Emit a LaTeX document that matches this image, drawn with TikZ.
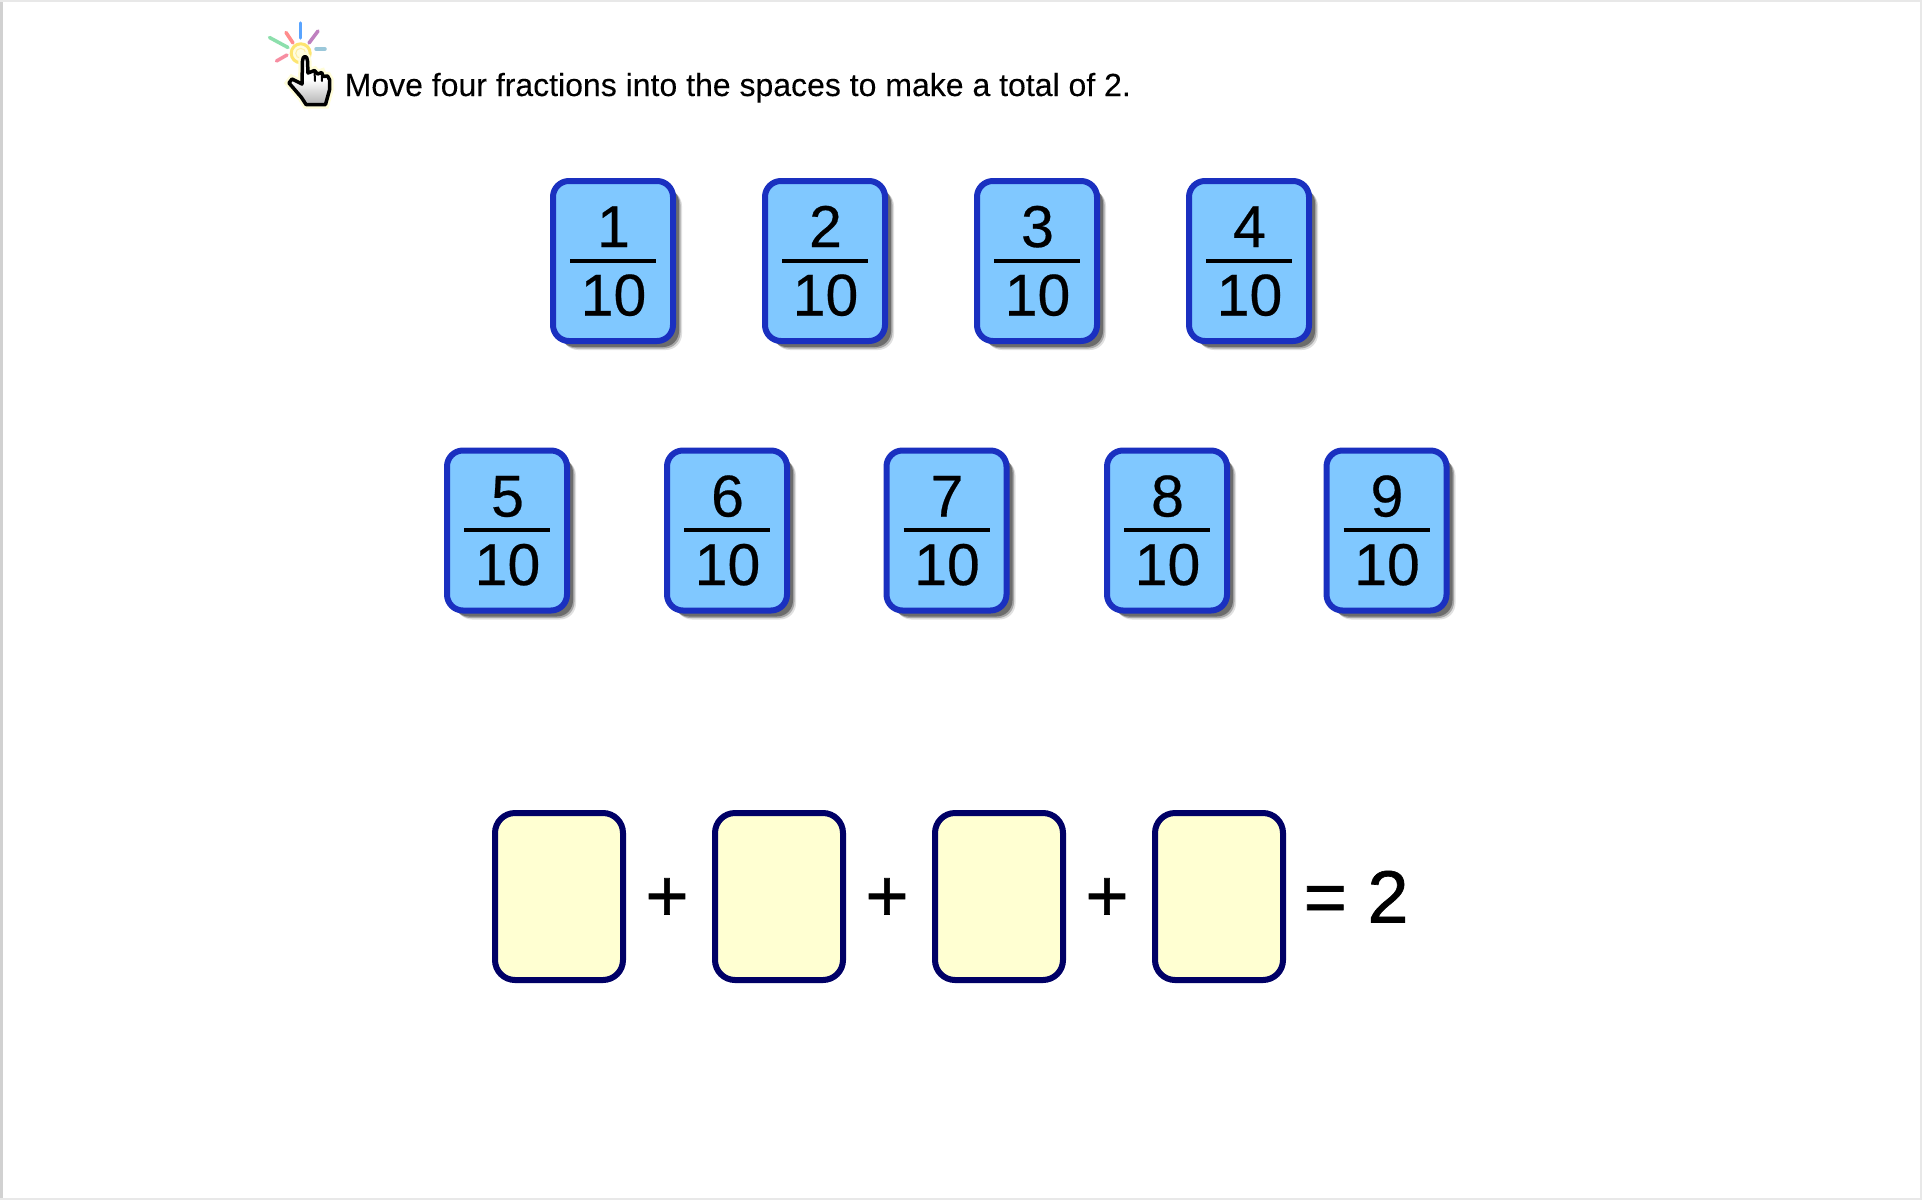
\documentclass[tikz,border=0pt]{standalone}
\usepackage{fontspec}
\setmainfont{Liberation Sans}
\newfontfamily\heavyfont[FakeBold=0.4]{Liberation Sans}
\newfontfamily\signfont[FakeBold=0.9]{Liberation Sans}
\newfontfamily\taskfont[FakeBold=0.12]{Liberation Sans}
\usetikzlibrary{shadows}

\definecolor{cardfill}{HTML}{80C8FF}
\definecolor{cardedge}{HTML}{1A30C0}
\definecolor{blankfill}{HTML}{FFFFD2}
\definecolor{blankedge}{HTML}{000066}

\tikzset{
    card/.style={draw=cardedge, fill=cardfill, line width=6pt, rounded corners=16pt,
        minimum width=120pt, minimum height=160pt, inner sep=0pt,
        drop shadow={shadow xshift=9pt, shadow yshift=-9pt, fill=black, opacity=0.12},
        drop shadow={shadow xshift=7.5pt, shadow yshift=-7.5pt, fill=black, opacity=0.25},
        drop shadow={shadow xshift=6pt, shadow yshift=-6pt, fill=black, opacity=0.35}},
    blank/.style={draw=blankedge, fill=blankfill, line width=6pt, rounded corners=20pt,
        minimum width=128pt, minimum height=167pt, inner sep=0pt},
    digit/.style={anchor=base, inner sep=0pt, font=\fontsize{59}{60}\heavyfont},
    sign/.style={anchor=base, inner sep=0pt, font=\fontsize{74}{76}\signfont},
    fractionbar/.style={line width=4pt},
    ray/.style={line width=3.5pt, line cap=round},
    crease/.style={line width=2pt, line cap=round}
}

\begin{document}
\begin{tikzpicture}[x=1pt, y=-1pt]

    \useasboundingbox (0, 0) rectangle (1922, 1200);

    % Thin grey edges of the page
    \fill[white] (0, 0) rectangle (1922, 1200);
    \fill[black!18] (0, 0) rectangle (3, 1200);
    \fill[black!9] (0, 0) rectangle (1922, 2);
    \fill[black!9] (0, 1198) rectangle (1922, 1200);
    \fill[black!9] (1920, 0) rectangle (1922, 1200);

    % Rays of the sparkle above the hand
    \draw[ray, color=blue!55!cyan!65] (300.7, 23) -- (300.7, 38);
    \draw[ray, color=red!45!white] (286, 32.5) -- (293, 43);
    \draw[ray, color=violet!50!white] (318, 31) -- (309, 43);
    \draw[ray, color=green!45!teal!45] (269.5, 37.5) -- (288, 47.5);
    \draw[ray, color=cyan!50!gray!60] (316, 49) -- (325, 49);
    \draw[ray, color=magenta!50!red!45] (276.5, 61) -- (287, 55);

    % Yellow ring under the finger
    \draw[line width=3pt, color=yellow!70!orange!55, fill=yellow!12] (300.7, 53.3) circle (9.5);
    \draw[line width=1pt, color=yellow!70!orange!35] (300.7, 53.3) circle (5);

    % Pale glow and outline of the pointing hand
    \draw[line width=3.5pt, line join=round, top color=white, bottom color=black!30,
        middle color=white, preaction={draw=yellow!15, line width=8pt}]
        (302.5, 61) .. controls (302.5, 55) and (307.5, 55) .. (307.5, 61)
        -- (308, 73) -- (314.5, 70.5) -- (317.5, 74) -- (321.7, 72.5) -- (323.3, 76.5)
        -- (327.5, 76) -- (329.5, 79.5) -- (329.5, 90) -- (325.5, 104.5) -- (306, 104.5)
        -- (301.5, 97.5) -- (289, 83) -- (292, 79) -- (302, 84) -- cycle;

    % Creases between the fingers
    \draw[crease] (314.5, 71) -- (315, 81);
    \draw[crease] (321.7, 73) -- (322, 81);

    % Instruction line
    \node[anchor=base west, inner sep=0pt, font=\fontsize{32}{34}\taskfont] (task)
        at (344.5, 96) {Move four fractions into the spaces to make a total of 2.};

    % Upper and lower row of fraction cards
    \foreach \num/\cx/\rowy in {1/613/260.5, 2/825/260.5, 3/1037/260.5, 4/1249/260.5,
        5/507/530, 6/727/530, 7/946.5/530, 8/1167/530, 9/1386.5/530} {
        \node[card] (card\num) at (\cx, \rowy+0.5) {};
        \node[digit] (top\num) at (\cx+0.5, \rowy-13.5) {\num};
        \node[digit] (bottom\num) at (\cx+0.5, \rowy+55) {10};
        \draw[fractionbar] (\cx-43, \rowy) -- (\cx+43, \rowy);
    }

    % Empty spaces of the sum
    \foreach \num/\cx in {1/559, 2/779, 3/999, 4/1219} {
        \node[blank] (space\num) at (\cx, 896.5) {};
    }

    % Plus signs between the spaces
    \foreach \num/\cx in {1/667, 2/887, 3/1107} {
        \node[sign] (plus\num) at (\cx, 921) {+};
    }

    % Result of the sum
    \node[sign, anchor=base west] (total) at (1303.5, 922.5) {= 2};

\end{tikzpicture}
\end{document}
